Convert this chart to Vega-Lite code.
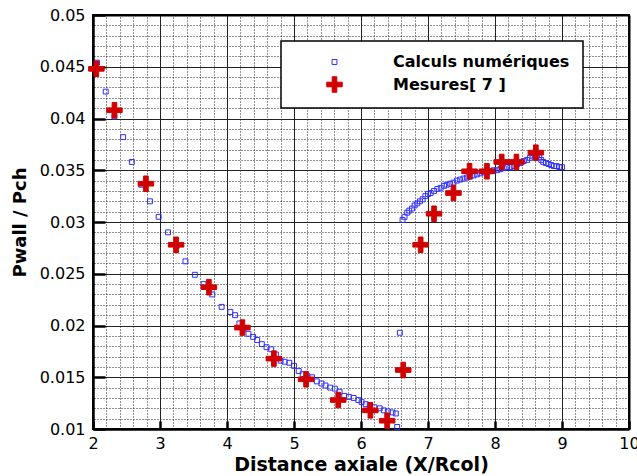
{
  "$schema": "https://vega.github.io/schema/vega-lite/v6.json",
  "width": 536,
  "height": 414,
  "autosize": "none",
  "padding": {"left": 93, "top": 15, "right": 8, "bottom": 47},
  "background": "white",
  "config": {
    "view": {"stroke": "black", "strokeWidth": 2},
    "font": "DejaVu Sans",
    "legend": {
      "orient": "none",
      "legendX": 188,
      "legendY": 26,
      "title": null,
      "fillColor": "white",
      "strokeColor": "black",
      "strokeWidth": 1.5,
      "padding": 13,
      "rowPadding": 4,
      "symbolOffset": 32,
      "labelOffset": 50,
      "labelFont": "DejaVu Sans",
      "labelFontWeight": "bold",
      "labelFontSize": 16,
      "labelColor": "black",
      "labelLimit": 400,
      "symbolStrokeWidth": 1
    }
  },
  "data": {
    "values": [
      {"series": "Calculs numériques", "x": 2.06, "p": 0.0454},
      {"series": "Calculs numériques", "x": 2.19, "p": 0.0426},
      {"series": "Calculs numériques", "x": 2.32, "p": 0.0402},
      {"series": "Calculs numériques", "x": 2.45, "p": 0.0382},
      {"series": "Calculs numériques", "x": 2.58, "p": 0.0358},
      {"series": "Calculs numériques", "x": 2.72, "p": 0.0336},
      {"series": "Calculs numériques", "x": 2.85, "p": 0.0320},
      {"series": "Calculs numériques", "x": 2.98, "p": 0.0305},
      {"series": "Calculs numériques", "x": 3.12, "p": 0.0290},
      {"series": "Calculs numériques", "x": 3.25, "p": 0.0277},
      {"series": "Calculs numériques", "x": 3.38, "p": 0.0262},
      {"series": "Calculs numériques", "x": 3.52, "p": 0.0249},
      {"series": "Calculs numériques", "x": 3.65, "p": 0.0240},
      {"series": "Calculs numériques", "x": 3.78, "p": 0.0230},
      {"series": "Calculs numériques", "x": 3.92, "p": 0.0218},
      {"series": "Calculs numériques", "x": 4.05, "p": 0.0213},
      {"series": "Calculs numériques", "x": 4.12, "p": 0.0210},
      {"series": "Calculs numériques", "x": 4.185, "p": 0.0202},
      {"series": "Calculs numériques", "x": 4.25, "p": 0.0197},
      {"series": "Calculs numériques", "x": 4.32, "p": 0.0192},
      {"series": "Calculs numériques", "x": 4.39, "p": 0.0189},
      {"series": "Calculs numériques", "x": 4.45, "p": 0.0186},
      {"series": "Calculs numériques", "x": 4.52, "p": 0.0182},
      {"series": "Calculs numériques", "x": 4.59, "p": 0.0179},
      {"series": "Calculs numériques", "x": 4.66, "p": 0.0177},
      {"series": "Calculs numériques", "x": 4.73, "p": 0.0172},
      {"series": "Calculs numériques", "x": 4.80, "p": 0.0166},
      {"series": "Calculs numériques", "x": 4.86, "p": 0.0165},
      {"series": "Calculs numériques", "x": 4.93, "p": 0.0164},
      {"series": "Calculs numériques", "x": 5.00, "p": 0.0161},
      {"series": "Calculs numériques", "x": 5.07, "p": 0.0156},
      {"series": "Calculs numériques", "x": 5.13, "p": 0.0153},
      {"series": "Calculs numériques", "x": 5.20, "p": 0.0151},
      {"series": "Calculs numériques", "x": 5.27, "p": 0.0150},
      {"series": "Calculs numériques", "x": 5.34, "p": 0.0146},
      {"series": "Calculs numériques", "x": 5.41, "p": 0.0144},
      {"series": "Calculs numériques", "x": 5.47, "p": 0.0142},
      {"series": "Calculs numériques", "x": 5.54, "p": 0.0140},
      {"series": "Calculs numériques", "x": 5.61, "p": 0.0139},
      {"series": "Calculs numériques", "x": 5.68, "p": 0.0136},
      {"series": "Calculs numériques", "x": 5.75, "p": 0.0132},
      {"series": "Calculs numériques", "x": 5.82, "p": 0.0131},
      {"series": "Calculs numériques", "x": 5.89, "p": 0.0130},
      {"series": "Calculs numériques", "x": 5.96, "p": 0.0128},
      {"series": "Calculs numériques", "x": 6.01, "p": 0.0126},
      {"series": "Calculs numériques", "x": 6.07, "p": 0.0124},
      {"series": "Calculs numériques", "x": 6.13, "p": 0.0123},
      {"series": "Calculs numériques", "x": 6.20, "p": 0.0121},
      {"series": "Calculs numériques", "x": 6.28, "p": 0.0120},
      {"series": "Calculs numériques", "x": 6.34, "p": 0.0118},
      {"series": "Calculs numériques", "x": 6.40, "p": 0.0117},
      {"series": "Calculs numériques", "x": 6.47, "p": 0.0116},
      {"series": "Calculs numériques", "x": 6.52, "p": 0.0115},
      {"series": "Calculs numériques", "x": 6.54, "p": 0.0102},
      {"series": "Calculs numériques", "x": 6.58, "p": 0.0193},
      {"series": "Calculs numériques", "x": 6.62, "p": 0.0302},
      {"series": "Calculs numériques", "x": 6.65, "p": 0.0305},
      {"series": "Calculs numériques", "x": 6.69, "p": 0.0309},
      {"series": "Calculs numériques", "x": 6.72, "p": 0.0311},
      {"series": "Calculs numériques", "x": 6.76, "p": 0.0313},
      {"series": "Calculs numériques", "x": 6.80, "p": 0.0316},
      {"series": "Calculs numériques", "x": 6.84, "p": 0.0318},
      {"series": "Calculs numériques", "x": 6.88, "p": 0.0320},
      {"series": "Calculs numériques", "x": 6.92, "p": 0.0322},
      {"series": "Calculs numériques", "x": 6.96, "p": 0.0325},
      {"series": "Calculs numériques", "x": 7.00, "p": 0.0327},
      {"series": "Calculs numériques", "x": 7.04, "p": 0.0328},
      {"series": "Calculs numériques", "x": 7.09, "p": 0.0330},
      {"series": "Calculs numériques", "x": 7.14, "p": 0.0332},
      {"series": "Calculs numériques", "x": 7.19, "p": 0.0333},
      {"series": "Calculs numériques", "x": 7.24, "p": 0.0335},
      {"series": "Calculs numériques", "x": 7.28, "p": 0.0336},
      {"series": "Calculs numériques", "x": 7.33, "p": 0.0337},
      {"series": "Calculs numériques", "x": 7.38, "p": 0.0338},
      {"series": "Calculs numériques", "x": 7.43, "p": 0.0340},
      {"series": "Calculs numériques", "x": 7.48, "p": 0.0341},
      {"series": "Calculs numériques", "x": 7.53, "p": 0.0342},
      {"series": "Calculs numériques", "x": 7.58, "p": 0.0343},
      {"series": "Calculs numériques", "x": 7.63, "p": 0.0344},
      {"series": "Calculs numériques", "x": 7.68, "p": 0.0345},
      {"series": "Calculs numériques", "x": 7.73, "p": 0.0346},
      {"series": "Calculs numériques", "x": 7.78, "p": 0.0347},
      {"series": "Calculs numériques", "x": 7.83, "p": 0.0348},
      {"series": "Calculs numériques", "x": 7.88, "p": 0.0348},
      {"series": "Calculs numériques", "x": 7.93, "p": 0.0349},
      {"series": "Calculs numériques", "x": 7.98, "p": 0.0350},
      {"series": "Calculs numériques", "x": 8.03, "p": 0.0350},
      {"series": "Calculs numériques", "x": 8.08, "p": 0.0351},
      {"series": "Calculs numériques", "x": 8.13, "p": 0.0352},
      {"series": "Calculs numériques", "x": 8.18, "p": 0.0353},
      {"series": "Calculs numériques", "x": 8.23, "p": 0.0353},
      {"series": "Calculs numériques", "x": 8.28, "p": 0.0354},
      {"series": "Calculs numériques", "x": 8.33, "p": 0.0356},
      {"series": "Calculs numériques", "x": 8.38, "p": 0.0357},
      {"series": "Calculs numériques", "x": 8.43, "p": 0.0359},
      {"series": "Calculs numériques", "x": 8.48, "p": 0.0360},
      {"series": "Calculs numériques", "x": 8.52, "p": 0.0362},
      {"series": "Calculs numériques", "x": 8.56, "p": 0.0364},
      {"series": "Calculs numériques", "x": 8.60, "p": 0.0365},
      {"series": "Calculs numériques", "x": 8.63, "p": 0.0365},
      {"series": "Calculs numériques", "x": 8.66, "p": 0.0363},
      {"series": "Calculs numériques", "x": 8.69, "p": 0.0360},
      {"series": "Calculs numériques", "x": 8.72, "p": 0.0358},
      {"series": "Calculs numériques", "x": 8.76, "p": 0.0357},
      {"series": "Calculs numériques", "x": 8.80, "p": 0.0356},
      {"series": "Calculs numériques", "x": 8.84, "p": 0.0355},
      {"series": "Calculs numériques", "x": 8.88, "p": 0.0354},
      {"series": "Calculs numériques", "x": 8.92, "p": 0.0354},
      {"series": "Calculs numériques", "x": 8.96, "p": 0.0353},
      {"series": "Calculs numériques", "x": 9.00, "p": 0.0353},
      {"series": "Mesures[ 7 ]", "x": 2.05, "p": 0.0448},
      {"series": "Mesures[ 7 ]", "x": 2.32, "p": 0.0408},
      {"series": "Mesures[ 7 ]", "x": 2.79, "p": 0.0337},
      {"series": "Mesures[ 7 ]", "x": 3.24, "p": 0.0278},
      {"series": "Mesures[ 7 ]", "x": 3.73, "p": 0.0237},
      {"series": "Mesures[ 7 ]", "x": 4.23, "p": 0.0198},
      {"series": "Mesures[ 7 ]", "x": 4.70, "p": 0.0168},
      {"series": "Mesures[ 7 ]", "x": 5.18, "p": 0.0148},
      {"series": "Mesures[ 7 ]", "x": 5.66, "p": 0.0128},
      {"series": "Mesures[ 7 ]", "x": 6.14, "p": 0.0118},
      {"series": "Mesures[ 7 ]", "x": 6.39, "p": 0.0108},
      {"series": "Mesures[ 7 ]", "x": 6.63, "p": 0.0157},
      {"series": "Mesures[ 7 ]", "x": 6.89, "p": 0.0278},
      {"series": "Mesures[ 7 ]", "x": 7.09, "p": 0.0308},
      {"series": "Mesures[ 7 ]", "x": 7.38, "p": 0.0328},
      {"series": "Mesures[ 7 ]", "x": 7.62, "p": 0.0349},
      {"series": "Mesures[ 7 ]", "x": 7.88, "p": 0.0349},
      {"series": "Mesures[ 7 ]", "x": 8.10, "p": 0.0358},
      {"series": "Mesures[ 7 ]", "x": 8.32, "p": 0.0358},
      {"series": "Mesures[ 7 ]", "x": 8.61, "p": 0.0367}
    ]
  },
  "layer": [
    {
      "transform": [{"filter": {"field": "series", "equal": "Calculs numériques"}}],
      "mark": {"type": "point", "filled": true, "strokeWidth": 1, "opacity": 1},
      "encoding": {
        "x": {
          "field": "x", "type": "quantitative",
          "scale": {"domain": [2, 10], "nice": false, "zero": false},
          "axis": {
            "orient": "bottom",
            "values": [2, 3, 4, 5, 6, 7, 8, 9, 10],
            "format": "d",
            "title": "Distance axiale (X/Rcol)",
            "grid": true, "gridColor": "#222222", "gridWidth": 1, "gridOpacity": 1,
            "tickSize": -8, "tickWidth": 2.5, "tickColor": "black",
            "domainColor": "black", "domainWidth": 2.5,
            "labelPadding": 14, "labelFontSize": 16, "labelColor": "black",
            "labelFont": "DejaVu Sans", "labelFlush": false, "labelOverlap": false,
            "titleFont": "DejaVu Sans", "titleFontSize": 19, "titleFontWeight": "bold",
            "titleColor": "black", "titlePadding": 4
          }
        },
        "y": {
          "field": "p", "type": "quantitative",
          "scale": {"domain": [0.01, 0.05], "nice": false, "zero": false},
          "axis": {
            "orient": "left",
            "values": [0.01, 0.015, 0.02, 0.025, 0.03, 0.035, 0.04, 0.045, 0.05],
            "format": ".3~f",
            "title": "Pwall / Pch",
            "grid": true, "gridColor": "#222222", "gridWidth": 1, "gridOpacity": 1,
            "tickSize": -12, "tickWidth": 2.5, "tickColor": "black",
            "domainColor": "black", "domainWidth": 2.5,
            "labelPadding": 20, "labelFontSize": 16, "labelColor": "black",
            "labelFont": "DejaVu Sans", "labelFlush": false, "labelOverlap": false,
            "titleFont": "DejaVu Sans", "titleFontSize": 18, "titleFontWeight": "bold",
            "titleColor": "black", "titlePadding": 10
          }
        },
        "shape": {
          "field": "series", "type": "nominal",
          "scale": {"domain": ["Calculs numériques", "Mesures[ 7 ]"], "range": ["square", "M-1,-0.3H-0.3V-1H0.3V-0.3H1V0.3H0.3V1H-0.3V0.3H-1Z"]}
        },
        "fill": {
          "field": "series", "type": "nominal",
          "scale": {"domain": ["Calculs numériques", "Mesures[ 7 ]"], "range": ["transparent", "#d10000"]}
        },
        "stroke": {
          "field": "series", "type": "nominal",
          "scale": {"domain": ["Calculs numériques", "Mesures[ 7 ]"], "range": ["#2e2eff", "#d10000"]}
        },
        "size": {
          "field": "series", "type": "nominal",
          "scale": {"domain": ["Calculs numériques", "Mesures[ 7 ]"], "range": [24, 240]}
        }
      }
    },
    {
      "transform": [{"filter": {"field": "series", "equal": "Mesures[ 7 ]"}}],
      "mark": {"type": "point", "filled": true, "strokeWidth": 1, "opacity": 1},
      "encoding": {
        "x": {
          "field": "x", "type": "quantitative",
          "axis": {
            "orient": "top",
            "values": [2.2, 2.4, 2.6, 2.8, 3.2, 3.4, 3.6, 3.8, 4.2, 4.4, 4.6, 4.8, 5.2, 5.4, 5.6, 5.8, 6.2, 6.4, 6.6, 6.8, 7.2, 7.4, 7.6, 7.8, 8.2, 8.4, 8.6, 8.8, 9.2, 9.4, 9.6, 9.8],
            "grid": true, "gridDash": [1, 2], "gridColor": "#222222", "gridWidth": 1, "gridOpacity": 1,
            "ticks": false, "labels": false, "title": null,
            "domainColor": "black", "domainWidth": 2
          }
        },
        "y": {
          "field": "p", "type": "quantitative",
          "axis": {
            "orient": "right",
            "values": [0.011, 0.012, 0.013, 0.014, 0.016, 0.017, 0.018, 0.019, 0.021, 0.022, 0.023, 0.024, 0.026, 0.027, 0.028, 0.029, 0.031, 0.032, 0.033, 0.034, 0.036, 0.037, 0.038, 0.039, 0.041, 0.042, 0.043, 0.044, 0.046, 0.047, 0.048, 0.049],
            "grid": true, "gridDash": [1, 2], "gridColor": "#222222", "gridWidth": 1, "gridOpacity": 1,
            "ticks": false, "labels": false, "title": null,
            "domainColor": "black", "domainWidth": 2
          }
        },
        "shape": {"field": "series", "type": "nominal"},
        "fill": {"field": "series", "type": "nominal"},
        "stroke": {"field": "series", "type": "nominal"},
        "size": {"field": "series", "type": "nominal"}
      }
    }
  ],
  "resolve": {"axis": {"x": "independent", "y": "independent"}}
}
